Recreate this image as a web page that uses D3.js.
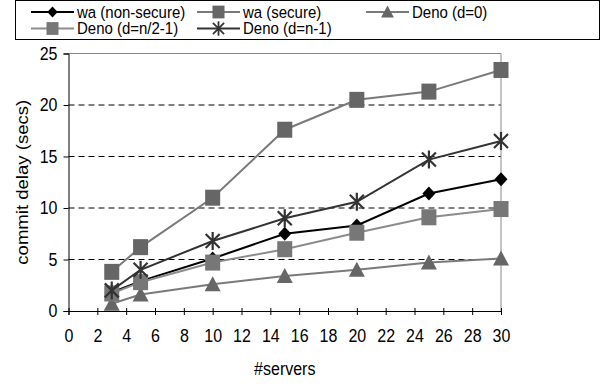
<!DOCTYPE html>
<html>
<head>
<meta charset="utf-8">
<script src="https://cdn.jsdelivr.net/npm/d3@7"></script>
<style>
  body { margin: 0; background: #fff; }
  svg { font-family: "Liberation Sans", Arial, sans-serif; }
</style>
</head>
<body>
<svg id="chart" width="607" height="388"></svg>
<script>
var servers = [3, 5, 10, 15, 20, 25, 30];
var waNonSecure = [1.8, 2.9, 5.1, 7.5, 8.3, 11.4, 12.8];
var waSecure = [3.8, 6.2, 11.0, 17.6, 20.5, 21.3, 23.4];
var denoD0 = [0.7, 1.6, 2.6, 3.4, 4.0, 4.7, 5.1];
var denoHalf = [1.7, 2.8, 4.7, 6.0, 7.6, 9.1, 9.9];
var denoFull = [2.0, 4.0, 6.8, 9.0, 10.6, 14.7, 16.5];
var xTicks = d3.range(0, 31, 2);
var yTicks = [0, 5, 10, 15, 20, 25];

var series = [
    {name: "wa (non-secure)", values: waNonSecure, line: "#000", fill: "#000", marker: "diamond"},
    {name: "wa (secure)", values: waSecure, line: "#7a7a7a", fill: "#666", marker: "square"},
    {name: "Deno (d=0)", values: denoD0, line: "#7a7a7a", fill: "#666", marker: "triangle"},
    {name: "Deno (d=n/2-1)", values: denoHalf, line: "#8c8c8c", fill: "#777", marker: "square"},
    {name: "Deno (d=n-1)", values: denoFull, line: "#333", fill: "#333", marker: "star"}
];

// text in the original is a little stretched vertically
var stretch = 1.16;

var svg = d3.select("#chart");
var margin = {left: 68.5, right: 106, top: 53.5, bottom: 77};
var width = 607 - margin.left - margin.right,
    height = 388 - margin.top - margin.bottom;

var x = d3.scaleLinear().domain([0, 30]).range([0, width]);
var y = d3.scaleLinear().domain([0, 25]).range([height, 0]);

var g = svg.append("g").attr("transform", "translate(" + margin.left + "," + margin.top + ")");

// grid lines
g.selectAll(".grid")
    .data([5, 10, 15, 20])
    .enter().append("line")
    .attr("x1", 0).attr("x2", width)
    .attr("y1", function(d) { return y(d); })
    .attr("y2", function(d) { return y(d); })
    .attr("stroke", "#000")
    .attr("stroke-dasharray", "6,4");

// top / right border
g.append("path")
    .attr("d", "M0," + y(25) + "H" + width + "V" + height)
    .attr("fill", "none")
    .attr("stroke", "#888");

var xAxis = g.append("g")
    .attr("transform", "translate(0," + height + ")")
    .call(d3.axisBottom(x).tickValues(xTicks).tickSize(4).tickPadding(11));
xAxis.selectAll(".tick line").attr("y1", -3);
var yAxis = g.append("g")
    .call(d3.axisLeft(y).tickValues(yTicks).tickSize(5).tickPadding(6));

[xAxis, yAxis].forEach(function(a) {
    a.select(".domain").attr("stroke", "#000");
    a.selectAll("text")
        .style("font-size", "16px")
        .style("font-family", "Liberation Sans, Arial, sans-serif")
        .attr("fill", "#000")
        .attr("transform", "scale(1," + stretch + ")");
});

svg.append("text")
    .attr("transform", "translate(" + (margin.left + width / 2) + ",375) scale(1," + stretch + ")")
    .attr("text-anchor", "middle")
    .style("font-size", "16px")
    .text("#servers");

svg.append("text")
    .attr("transform", "translate(28," + (margin.top + height / 2) + ") rotate(-90) scale(" + stretch + ",1)")
    .attr("text-anchor", "middle")
    .style("font-size", "16px")
    .text("commit delay (secs)");

function drawMarker(sel, type, color) {
    if (type == "diamond") {
        sel.append("path").attr("d", "M0,-7L6.5,0L0,7L-6.5,0Z").attr("fill", color);
    } else if (type == "square") {
        sel.append("rect").attr("x", -7.5).attr("y", -8).attr("width", 15).attr("height", 16).attr("fill", color);
    } else if (type == "triangle") {
        sel.append("path").attr("d", "M0,-8L8,7L-8,7Z").attr("fill", color);
    } else if (type == "star") {
        sel.append("path")
            .attr("d", "M-7,-7L7,7M-7,7L7,-7M0,-9V9")
            .attr("stroke", color).attr("stroke-width", 2.2).attr("fill", "none");
    }
}

var line = d3.line()
    .x(function(d, i) { return x(servers[i]); })
    .y(function(d) { return y(d); });

series.forEach(function(s) {
    g.append("path")
        .datum(s.values)
        .attr("d", line)
        .attr("fill", "none")
        .attr("stroke", s.line)
        .attr("stroke-width", 2);
    s.values.forEach(function(v, i) {
        var m = g.append("g").attr("transform", "translate(" + x(servers[i]) + "," + y(v) + ")");
        drawMarker(m, s.marker, s.fill);
    });
});

// legend
var legend = svg.append("g");
legend.append("rect")
    .attr("x", 15.5).attr("y", 0.5).attr("width", 584).attr("height", 39)
    .attr("fill", "#fff").attr("stroke", "#000");
var legPos = [[31, 12], [197, 12], [366, 12], [31, 28.5], [197, 28.5]];
series.forEach(function(s, i) {
    var p = legPos[i];
    var item = legend.append("g").attr("transform", "translate(" + p[0] + "," + p[1] + ")");
    item.append("line").attr("x1", 0).attr("x2", 43).attr("stroke", s.line).attr("stroke-width", 2);
    var mk = item.append("g").attr("transform", "translate(21.5,0) scale(0.8)");
    drawMarker(mk, s.marker, s.fill);
    item.append("text")
        .attr("transform", "translate(46,5.5) scale(1,1.05)")
        .style("font-size", "15px")
        .text(s.name);
});
</script>
</body>
</html>
